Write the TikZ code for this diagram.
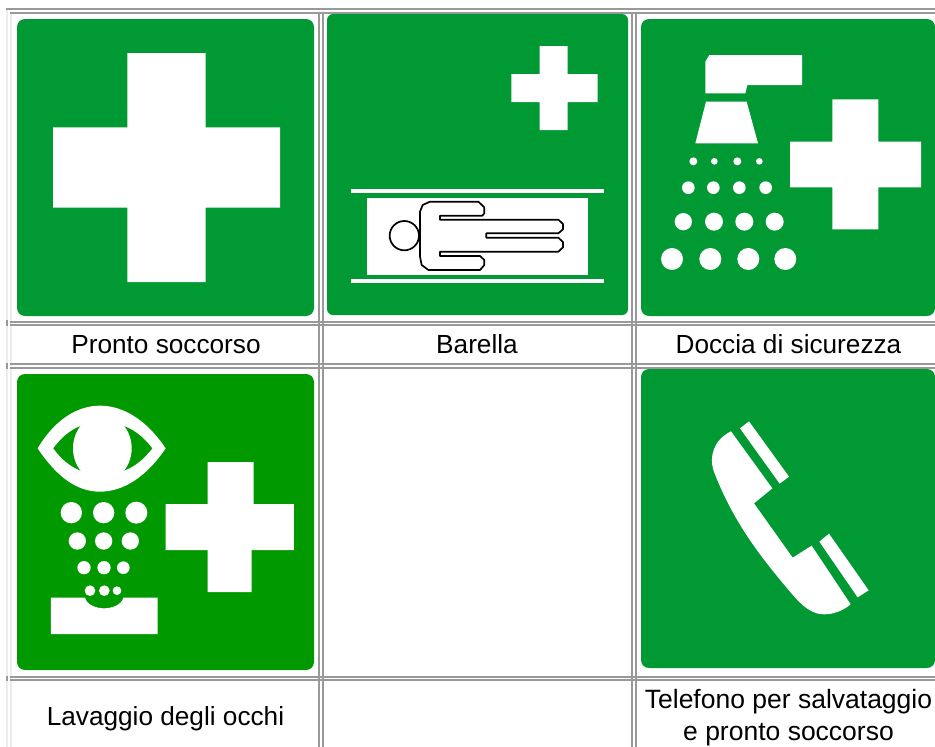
\documentclass[tikz,border=0pt]{standalone}
\usepackage{fontspec}
\setmainfont{Liberation Sans}
\definecolor{signA}{RGB}{0,153,51}
\definecolor{signB}{RGB}{0,153,0}
\definecolor{rulegray}{RGB}{153,153,153}
\definecolor{ruleligh}{RGB}{236,236,236}
\tikzset{
  panel/.style={rounded corners=8pt,draw=none},
  glyph/.style={fill=white,draw=none},
  gridline/.style={draw=rulegray,line width=2pt},
  faintline/.style={draw=ruleligh,line width=2pt},
  caption/.style={font=\fontsize{26.2}{30}\selectfont,text=black,anchor=base,inner sep=0pt},
  zoomA/.style={x=0.33333pt,y=-0.33333pt}
}
\begin{document}
\begin{tikzpicture}[x=1pt,y=-1pt]
\useasboundingbox (0,0) rectangle (935,747);
\fill[white] (0,0) rectangle (935,747);
% faint outer verticals
\draw[faintline] (7,10) -- (7,747);
\draw[faintline] (11,14) -- (11,747);
% grid
\draw[gridline] (6,9) -- (935,9);
\foreach \yy in {13,322,325,364,368,677,680} \draw[gridline] (10,\yy) -- (935,\yy);
\foreach \xx in {319,323,632,636} \draw[gridline] (\xx,12) -- (\xx,747);
\foreach \ya/\yb in {320/326,363/369,676/681} \draw[gridline] (7,\ya) -- (7,\yb);
% Panel 1
\fill[signA,panel] (17,19) rectangle (314,316);
\fill[glyph] (127.3,53) -- (205.5,53) -- (205.5,127.3) -- (280,127.3) -- (280,207.5) -- (205.5,207.5) -- (205.5,282) -- (127.3,282) -- (127.3,207.5) -- (53,207.5) -- (53,127.3) -- (127.3,127.3) -- cycle;
% Panel 2
\fill[signA,panel,rounded corners=6pt] (327,14) rectangle (628,315);
\fill[glyph] (539.7,46) -- (567.7,46) -- (567.7,74) -- (597.7,74) -- (597.7,102) -- (567.7,102) -- (567.7,130) -- (539.7,130) -- (539.7,102) -- (511.3,102) -- (511.3,74) -- (539.7,74) -- cycle;
\fill[glyph] (351,188.5) rectangle (604,192.7);
\fill[glyph] (351,278.7) rectangle (604,283);
\fill[glyph] (367,198.3) rectangle (587.7,274.7);
\begin{scope}[shift={(320,150)},zoomA]
\draw[black,line width=1.7pt] (253,257) circle[radius=44];
\draw[black,line width=1.7pt,fill=white,line join=round]
  (330,155) -- (475,155) -- (493,172) -- (493,190) -- (487,197) -- (360,197) -- (360,209) -- (715,209) -- (729,222) -- (729,238) -- (715,250) -- (499,250) -- (499,263) -- (715,263) -- (729,276) -- (729,292) -- (715,305) -- (360,305) -- (360,318) -- (480,318) -- (493,330) -- (493,345) -- (480,360) -- (325,360) -- (305,345) -- (300,320) -- (300,185) -- (308,165) -- cycle;
\end{scope}
% Panel 3
\fill[signA,panel] (641,19) rectangle (935,316);
\begin{scope}[shift={(630,0)},zoomA]
\fill[glyph] (238,165) -- (516,165) -- (516,255) -- (352,255) -- (346,280) -- (226,280) -- (226,185) -- cycle;
\fill[glyph] (228,305) -- (350,305) -- (384,430) -- (196,430) -- cycle;
\foreach \cx/\cy/\rr in {190/484/12,253/484/10,322/484/12,388/484/10,
  175/563/19,250/563/19,328/563/19,407/563/19,
  160/665/26,252/665/27,343/665/27,434/665/27,
  126/777/33,241/777/33,355/777/33,466/777/33}
  \fill[glyph] (\cx,\cy) circle[radius=\rr];
\fill[glyph] (607,298) -- (745,298) -- (745,425) -- (873,425) -- (873,562) -- (745,562) -- (745,688) -- (607,688) -- (607,562) -- (480,562) -- (480,425) -- (607,425) -- cycle;
\end{scope}
% Panel 4
\fill[signB,panel] (17,374) rectangle (314,670);
\begin{scope}[shift={(0,360)},zoomA]
\fill[glyph] (113,265) .. controls (170,170) and (240,137) .. (300,137) .. controls (370,137) and (440,180) .. (497,265) .. controls (440,350) and (370,395) .. (300,395) .. controls (230,395) and (170,350) .. (113,265) -- cycle;
\fill[signB] (160,265) .. controls (190,225) and (230,188) .. (305,186) .. controls (385,188) and (425,225) .. (457,265) .. controls (425,305) and (385,342) .. (305,344) .. controls (230,342) and (190,305) .. (160,265) -- cycle;
\fill[glyph] (307,265) ellipse[x radius=88,y radius=100];
\foreach \cx/\cy/\rr in {214/458/32,311/458/32,409/458/33,
  232/543/26,311/543/26,391/543/26,
  252/623/20,312/623/20,370/623/19,
  270/692/16,313/692/16,351/692/13}
  \fill[glyph] (\cx,\cy) circle[radius=\rr];
\fill[glyph] (153,713) -- (255,713) .. controls (260,735) and (290,745) .. (312,745) .. controls (335,745) and (365,735) .. (370,713) -- (473,713) -- (473,822) -- (153,822) -- cycle;
\fill[glyph] (623,306) -- (761,306) -- (761,432) -- (882,432) -- (882,570) -- (755,570) -- (755,696) -- (623,696) -- (623,570) -- (497,570) -- (497,432) -- (623,432) -- cycle;
\end{scope}
% Panel 5
\fill[signA,panel] (641,369) rectangle (935,668);
\begin{scope}[shift={(630,360)},zoomA]
\fill[glyph] (303,214) -- (427,385) -- (372,430) -- (488,593) -- (545,557) -- (662,733) .. controls (630,760) and (590,768) .. (560,760) .. controls (530,750) and (510,730) .. (480,695) .. controls (400,600) and (310,490) .. (250,330) .. controls (238,290) and (250,240) .. (303,214) -- cycle;
\fill[glyph] (330,205) -- (357,184) -- (477,350) -- (449,371) -- cycle;
\fill[glyph] (568,545) -- (597,521) -- (716,691) -- (683,712) -- cycle;
\end{scope}
% Captions
\node[caption] (capPronto) at (166,353.5) {Pronto soccorso};
\node[caption] (capBarella) at (477,353.5) {Barella};
\node[caption] (capDoccia) at (788.5,353.5) {Doccia di sicurezza};
\node[caption] (capLavaggio) at (165.5,725) {Lavaggio degli occhi};
\node[caption,font=\fontsize{26.5}{30}\selectfont] (capTelefonoA) at (788.5,708) {Telefono per salvataggio};
\node[caption,font=\fontsize{26.5}{30}\selectfont] (capTelefonoB) at (788.5,740) {e pronto soccorso};
\end{tikzpicture}
\end{document}
